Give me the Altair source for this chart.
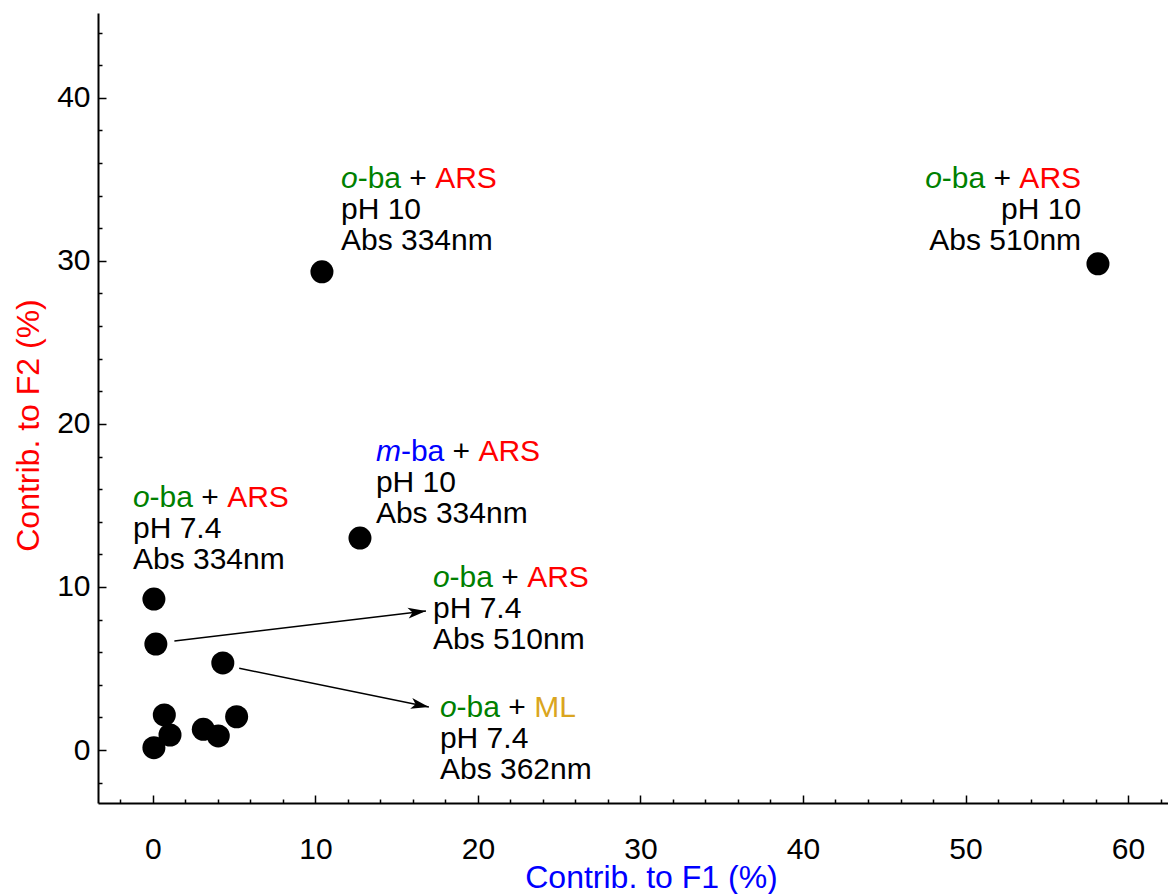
import math
import altair as alt
import pandas as pd

# ---------------- data ----------------
pt_x = [10.4, 58.15, 12.74, 0.06, 0.18, 4.3, 0.7, 1.05, 0.06, 3.1, 4.02, 5.15]
pt_y = [29.33, 29.82, 13.0, 9.26, 6.5, 5.34, 2.15, 0.92, 0.14, 1.27, 0.86, 2.04]

lab_x = [11.57, 57.11, 13.72, -1.23, 17.23, 17.66]
lab_y = [34.45, 34.45, 17.7, 14.9, 10.0, 2.04]
lab_align = ["left", "right", "left", "left", "left", "left"]
lab_prefix = ["o", "o", "m", "o", "o", "o"]
lab_partner = ["ARS", "ARS", "ARS", "ARS", "ARS", "ML"]
lab_ph = ["pH 10", "pH 10", "pH 10", "pH 7.4", "pH 7.4", "pH 7.4"]
lab_abs = ["Abs 334nm", "Abs 510nm", "Abs 334nm", "Abs 334nm", "Abs 510nm", "Abs 362nm"]

arrow_x0 = [1.32, 5.31]
arrow_y0 = [6.69, 5.01]
arrow_x1 = [16.8, 16.98]
arrow_y1 = [8.53, 2.64]

x_ticks = [0, 10, 20, 30, 40, 50, 60]
y_ticks = [0, 10, 20, 30, 40]
x_minor = list(range(-2, 63, 2))
y_minor = list(range(-2, 45, 2))

XDOM = [-3.38, 62.46]
YDOM = [-3.25, 45.2]

# ---------------- styling ----------------
W, H = 1070, 790
FONT = "Liberation Sans"
FS = 30
LINE = 31
col_species = {"o": "#008000", "m": "#0000FF"}
col_partner = {"ARS": "#FF0000", "ML": "#DAA520"}

kx = W / (XDOM[1] - XDOM[0])
ky = H / (YDOM[1] - YDOM[0])

ADV = {'o': 556, '-': 333, 'b': 556, 'a': 556, ' ': 278, '+': 584, 'A': 667,
       'R': 722, 'S': 667, 'M': 833, 'L': 556, 'm': 833, 'p': 556, 'H': 722,
       '.': 278, 'n': 556, 's': 500}
for d in "0123456789":
    ADV[d] = 556


def tw(s):
    return sum(ADV.get(c, 556) for c in s) / 1000.0 * FS


rows = []
for i in range(len(lab_x)):
    pc = col_species[lab_prefix[i]]
    segs = [(lab_prefix[i], pc, "italic"), ("-ba", pc, "normal"),
            (" ", "#000000", "normal"), ("+", "#000000", "normal"),
            (" ", "#000000", "normal"), (lab_partner[i], col_partner[lab_partner[i]], "normal")]
    total = sum(tw(s[0]) for s in segs)
    off = 0.0 if lab_align[i] == "left" else -total
    for txt, c, st in segs:
        if txt.strip():
            rows.append(dict(x=lab_x[i] + off / kx, y=lab_y[i], t=txt, c=c, st=st))
        off += tw(txt)
    for k, line in enumerate([lab_ph[i], lab_abs[i]], start=1):
        o = 0.0 if lab_align[i] == "left" else -tw(line)
        rows.append(dict(x=lab_x[i] + o / kx, y=lab_y[i] - k * LINE / ky, t=line,
                         c="#000000", st="normal"))
txt_df = pd.DataFrame(rows)

pts = pd.DataFrame({"x": pt_x, "y": pt_y})

arr = pd.DataFrame({"x": arrow_x0, "y": arrow_y0, "x2": arrow_x1, "y2": arrow_y1})
arr["ang"] = [
    math.degrees(math.atan2(-(y1 - y0) * ky, (x1 - x0) * kx)) % 360
    for x0, y0, x1, y1 in zip(arrow_x0, arrow_y0, arrow_x1, arrow_y1)
]

xs = alt.Scale(domain=XDOM, nice=False, zero=False)
ys = alt.Scale(domain=YDOM, nice=False, zero=False)

tick_cond = {"condition": {"test": "datum.value % 10 === 0", "value": 8}, "value": 4}

main_x_axis = alt.Axis(orient="bottom", values=x_ticks, ticks=False, grid=False,
                       domainColor="black", domainWidth=2, labelFontSize=30,
                       labelFont=FONT, labelColor="black", labelPadding=31,
                       title="Contrib. to F1 (%)", titleColor="#0000FF",
                       titleFontSize=32, titleFont=FONT, titleFontWeight="normal",
                       titleX=553, titleY=84, titleBaseline="alphabetic",
                       titleAlign="center")
main_y_axis = alt.Axis(orient="left", values=y_ticks, ticks=False, grid=False,
                       domainColor="black", domainWidth=2, labelFontSize=30,
                       labelFont=FONT, labelColor="black", labelPadding=8,
                       title="Contrib. to F2 (%)", titleColor="#FF0000",
                       titleFontSize=32, titleFont=FONT, titleFontWeight="normal",
                       titleAngle=270, titleX=-70, titleY=412,
                       titleBaseline="middle", titleAlign="center")

points = alt.Chart(pts).mark_circle(size=530, color="black", opacity=1).encode(
    x=alt.X("x:Q", scale=xs, axis=main_x_axis),
    y=alt.Y("y:Q", scale=ys, axis=main_y_axis),
)

tick_layer = alt.Chart(pts).mark_point(opacity=0).encode(
    x=alt.X("x:Q", scale=xs, axis=alt.Axis(orient="top", offset=-H, values=x_minor,
                                          labels=False, domain=False, grid=False,
                                          title=None, tickColor="black",
                                          tickWidth=1.5, tickSize=tick_cond)),
    y=alt.Y("y:Q", scale=ys, axis=alt.Axis(orient="right", offset=-W, values=y_minor,
                                          labels=False, domain=False, grid=False,
                                          title=None, tickColor="black",
                                          tickWidth=1.5, tickSize=tick_cond)),
)

shafts = alt.Chart(arr).mark_rule(color="black", strokeWidth=1.5).encode(
    x=alt.X("x:Q", scale=xs, axis=None), y=alt.Y("y:Q", scale=ys, axis=None),
    x2="x2:Q", y2="y2:Q",
)

heads = alt.Chart(arr).mark_point(
    shape="M0,0L-2,-0.6L-1.5,0L-2,0.6Z", filled=True, size=324, color="black", opacity=1
).encode(
    x=alt.X("x2:Q", scale=xs, axis=None), y=alt.Y("y2:Q", scale=ys, axis=None),
    angle=alt.Angle("ang:Q", scale=None),
)

txt_norm = alt.Chart(txt_df).transform_filter("datum.st == 'normal'").mark_text(
    align="left", baseline="alphabetic", font=FONT, fontSize=FS
).encode(
    x=alt.X("x:Q", scale=xs, axis=None), y=alt.Y("y:Q", scale=ys, axis=None),
    text="t:N", color=alt.Color("c:N", scale=None),
)

txt_ital = alt.Chart(txt_df).transform_filter("datum.st == 'italic'").mark_text(
    align="left", baseline="alphabetic", font=FONT, fontSize=FS, fontStyle="italic"
).encode(
    x=alt.X("x:Q", scale=xs, axis=None), y=alt.Y("y:Q", scale=ys, axis=None),
    text="t:N", color=alt.Color("c:N", scale=None),
)

chart = alt.layer(points, tick_layer, shafts, heads, txt_norm, txt_ital).resolve_axis(
    x="independent", y="independent"
).properties(
    width=W, height=H,
    autosize=alt.AutoSizeParams(type="none"),
    padding={"left": 90, "top": 5, "right": 0, "bottom": 91},
    background="white",
).configure_view(stroke=None)

chart.save("out.html", embed_options={"renderer": "svg", "actions": False})
